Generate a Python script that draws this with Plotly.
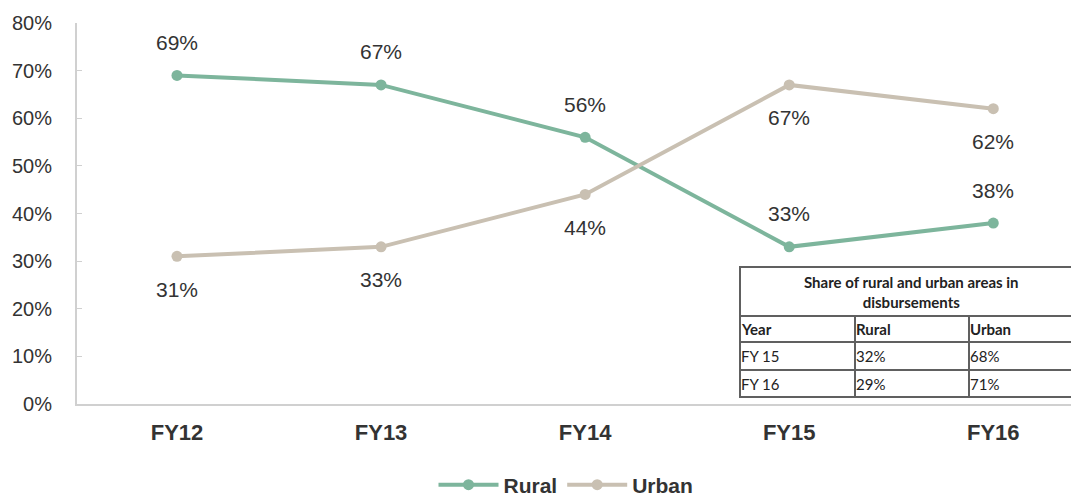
import plotly.graph_objects as go

categories = ["FY12", "FY13", "FY14", "FY15", "FY16"]
rural = [0.69, 0.67, 0.56, 0.33, 0.38]
urban = [0.31, 0.33, 0.44, 0.67, 0.62]
y_ticks = [0, 0.1, 0.2, 0.3, 0.4, 0.5, 0.6, 0.7, 0.8]

table_title = "Share of rural and urban areas in<br>disbursements"
table_header = ["Year", "Rural", "Urban"]
table_years = ["FY 15", "FY 16"]
table_rural = ["32%", "29%"]
table_urban = ["68%", "71%"]

GREEN = "#7db59c"
BEIGE = "#c9c0b2"
TXT = "#333333"

OFF = 8  # page body margin offset
FW, FH = 1079 - OFF, 497 - OFF
L, R, T, B = 77 - OFF, 1079 - OFF, 23 - OFF, 404 - OFF
W, H = R - L, B - T
def px(x):
    return (x - OFF - L) / W
def py(y):
    return (B - (y - OFF)) / H

fig = go.Figure()
fig.add_trace(go.Scatter(
    x=categories, y=rural, name="<b>Rural</b>", mode="lines+markers",
    line=dict(color=GREEN, width=4), marker=dict(size=11, color=GREEN),
    cliponaxis=False,
))
fig.add_trace(go.Scatter(
    x=categories, y=urban, name="<b>Urban</b>", mode="lines+markers",
    line=dict(color=BEIGE, width=4), marker=dict(size=11, color=BEIGE),
    cliponaxis=False,
))

annotations = []
for series, shift in ((rural, 33), (urban, -33)):
    for c, v in zip(categories, series):
        annotations.append(dict(x=c, y=v, xref="x", yref="y", yshift=shift,
                                text=f"{round(v*100)}%", showarrow=False,
                                font=dict(size=21, color=TXT, family="Liberation Sans")))

# Table
tl, tr = 740, 1079
rows_y = [267, 316, 342, 370, 397]
cols_x = [740, 855, 969, 1079]
line_c = "#606060"
shapes = []
shapes.append(dict(type="rect", xref="paper", yref="paper",
                   x0=px(tl), x1=px(tr + 5), y0=py(rows_y[0]), y1=py(rows_y[-1]),
                   line=dict(color=line_c, width=2), fillcolor="white", layer="above"))
for yy in rows_y[1:-1]:
    shapes.append(dict(type="line", xref="paper", yref="paper",
                       x0=px(tl), x1=px(tr), y0=py(yy), y1=py(yy),
                       line=dict(color=line_c, width=2), layer="above"))
for xx in cols_x[1:-1]:
    shapes.append(dict(type="line", xref="paper", yref="paper",
                       x0=px(xx), x1=px(xx), y0=py(rows_y[1]), y1=py(rows_y[-1]),
                       line=dict(color=line_c, width=2), layer="above"))

annotations.append(dict(xref="paper", yref="paper", x=px(911), y=py(292),
                        xanchor="center", yanchor="middle", align="center",
                        text="<b>" + table_title + "</b>", showarrow=False,
                        font=dict(size=15, color="#222", family="Lato")))
table_rows = [table_header] + [list(r) for r in zip(table_years, table_rural, table_urban)]
for i, row in enumerate(table_rows):
    yc = (rows_y[i + 1] + rows_y[i + 2]) / 2
    for j, cell in enumerate(row):
        txt = f"<b>{cell}</b>" if i == 0 else cell
        annotations.append(dict(xref="paper", yref="paper", x=px(cols_x[j] - 1), y=py(yc),
                                xanchor="left", yanchor="middle", text=txt, showarrow=False,
                                font=dict(size=15, color="#222", family="Lato")))

fig.update_layout(
    width=FW, height=FH,
    margin=dict(l=L, r=FW - R, t=T, b=FH - B, autoexpand=False),
    paper_bgcolor="white", plot_bgcolor="white",
    showlegend=True,
    legend=dict(orientation="h", x=px(566), xanchor="center", y=py(485), yanchor="middle",
                font=dict(size=21, color=TXT, family="Liberation Sans"),
                itemwidth=60, traceorder="normal"),
    xaxis=dict(range=[-0.49, 4.42], showline=True, linecolor="#d0d0d0", linewidth=2,
               showgrid=False, zeroline=False, ticks="", automargin=False,
               tickfont=dict(size=22, color=TXT, family="Liberation Sans"),
               tickprefix="<b>", ticksuffix="</b>", ticklabelstandoff=8),
    yaxis=dict(range=[0, 0.8], tickvals=y_ticks, tickformat=".0%", automargin=False,
               showline=True, linecolor="#d0d0d0", linewidth=2,
               showgrid=False, zeroline=False, ticks="inside", ticklen=5, tickcolor="#d0d0d0",
               tickfont=dict(size=20, color=TXT, family="Liberation Sans"),
               tickprefix="<b>", ticksuffix="</b>",
               ticklabelstandoff=19),
    shapes=shapes, annotations=annotations,
)
fig.write_html("out.html")
